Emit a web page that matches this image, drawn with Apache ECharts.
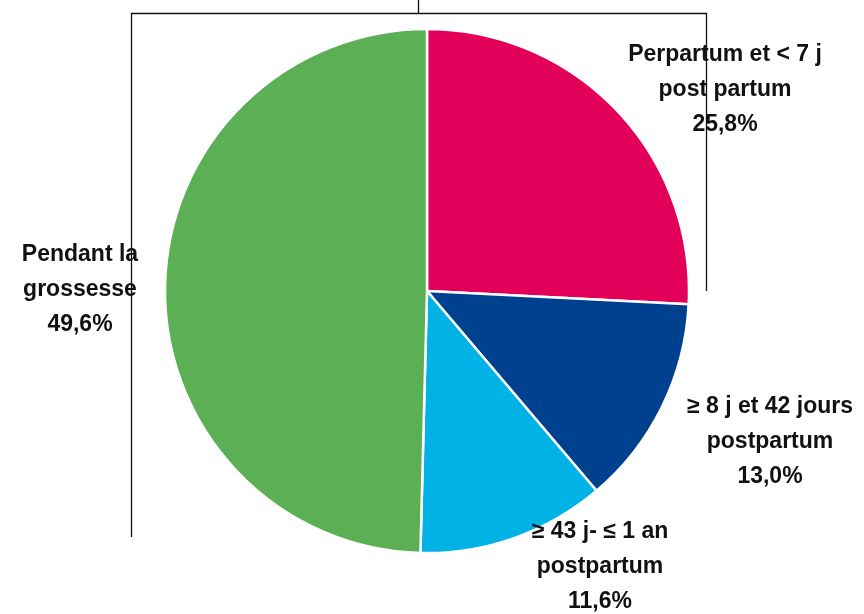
<!DOCTYPE html>
<html>
<head>
<meta charset="utf-8">
<script src="https://cdn.jsdelivr.net/npm/echarts@6/dist/echarts.min.js"></script>
<style>
  html, body { margin: 0; padding: 0; background: #fff; }
  #chart { width: 864px; height: 614px; }
</style>
</head>
<body>
<div id="chart"></div>
<script>
const categories = [
  "Perpartum et < 7 j\npost partum",
  "≥ 8 j et 42 jours\npostpartum",
  "≥ 43 j- ≤ 1 an\npostpartum",
  "Pendant la\ngrossesse"
];
const values = [25.8, 13.0, 11.6, 49.6];
const colors = ["#E3005A", "#00418F", "#00B2E5", "#5BAF55"];

// label anchor (centre of the text block), in px
const labelPos = [[725, 90], [770, 442], [600, 567], [80, 290]];

const chart = echarts.init(document.getElementById("chart"), undefined, { renderer: "canvas" });

chart.setOption({
  animation: false,
  series: [
    {
      type: "pie",
      center: [427, 291],
      radius: 262,
      startAngle: 90,
      clockwise: true,
      data: categories.map((name, i) => ({
        name,
        value: values[i],
        itemStyle: { color: colors[i] }
      })),
      itemStyle: { borderColor: "#fff", borderWidth: 2.5 },
      label: {
        show: true,
        position: "outside",
        formatter: (p) => p.name + "\n" + p.value.toFixed(1).replace(".", ",") + "%",
        fontFamily: "Liberation Sans",
        fontWeight: "bold",
        fontSize: 23,
        lineHeight: 35,
        color: "#111",
        align: "center",
        overflow: "none"
      },
      labelLine: { show: false },
      labelLayout: (params) => ({
        x: labelPos[params.dataIndex][0],
        y: labelPos[params.dataIndex][1],
        align: "center",
        verticalAlign: "middle"
      })
    }
  ],
  graphic: [
    {
      type: "polyline",
      z: 100,
      shape: { points: [[131.5, 537], [131.5, 13.5], [706.5, 13.5], [706.5, 291]] },
      style: { stroke: "#111", lineWidth: 1.3, fill: null }
    },
    {
      type: "line",
      z: 100,
      shape: { x1: 418.5, y1: 0, x2: 418.5, y2: 13.5 },
      style: { stroke: "#111", lineWidth: 1.3 }
    }
  ]
});
</script>
</body>
</html>
